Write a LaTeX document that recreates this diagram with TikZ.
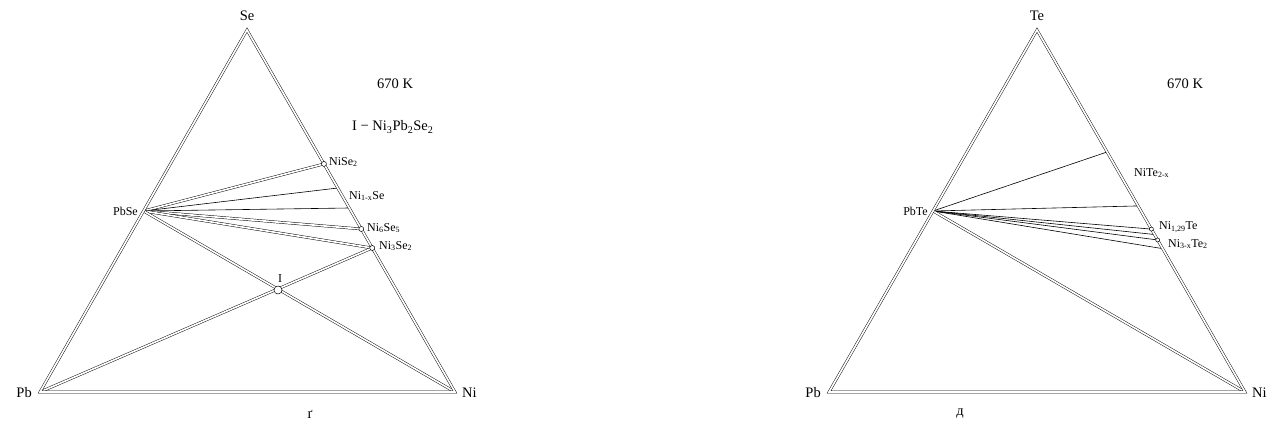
\documentclass[tikz,border=0pt]{standalone}
\usepackage{fontspec}
\setmainfont{Liberation Serif}
\usetikzlibrary{calc}
\tikzset{
  dbl/.style={draw=black, line width=0.45pt, double=white, double distance=1.7pt},
  sgl/.style={draw=black, line width=0.6pt},
  phasept/.style={circle, draw=black, fill=white, inner sep=0pt, minimum size=5pt, line width=0.5pt},
  bigpt/.style={circle, draw=black, fill=white, inner sep=0pt, minimum size=8pt, line width=0.5pt},
  lab/.style={font=\fontsize{12}{12}\selectfont, inner sep=1pt},
  biglab/.style={font=\fontsize{14.5}{14.5}\selectfont, inner sep=1pt}
}
\begin{document}
\begin{tikzpicture}[x=1pt,y=-1pt]
\useasboundingbox (0,0) rectangle (1276,427);
% ---------------- left diagram ----------------
\coordinate (PbL) at (40,392);
\coordinate (NiL) at (455,392);
\coordinate (SeL) at (247,30);
\coordinate (PbSe) at ($(PbL)!0.5!(SeL)$);
\coordinate (NiSe2) at ($(SeL)!0.370!(NiL)$);
\coordinate (NiSeA) at ($(SeL)!0.4365!(NiL)$);
\coordinate (NiSeB) at ($(SeL)!0.4917!(NiL)$);
\coordinate (Ni6Se5) at ($(SeL)!0.5497!(NiL)$);
\coordinate (Ni3Se2) at ($(SeL)!0.6022!(NiL)$);
% tie lines
\draw[dbl] (PbSe) -- (NiSe2);
\draw[sgl] (PbSe) -- (NiSeA);
\draw[sgl] (PbSe) -- (NiSeB);
\draw[dbl] (PbSe) -- (Ni6Se5);
\draw[dbl] (PbSe) -- (Ni3Se2);
\draw[dbl] (PbSe) -- (NiL);
\draw[dbl] (PbL) -- (Ni3Se2);
\draw[dbl, line join=miter] (PbL) -- (SeL) -- (NiL) -- cycle;
\node[phasept] (cNiSe2) at (NiSe2) {};
\node[phasept] (cNi6Se5) at (Ni6Se5) {};
\node[phasept] (cNi3Se2) at (Ni3Se2) {};
\node[bigpt] (pI) at (278,290) {};
% labels
\node[biglab] (lSe) at (247,16) {Se};
\node[biglab, anchor=east] (lPbL) at (33,393) {Pb};
\node[biglab, anchor=west] (lNiL) at (461,393) {Ni};
\node[lab, anchor=east] (lPbSe) at (139,211) {PbSe};
\node[lab, anchor=west] (lNiSe2) at (328,162) {NiSe\textsubscript{2}};
\node[lab, anchor=west] (lNiSe) at (348,196) {Ni\textsubscript{1-x}Se};
\node[lab, anchor=west] (lNi6Se5) at (366,228) {Ni\textsubscript{6}Se\textsubscript{5}};
\node[lab, anchor=west] (lNi3Se2) at (378,246) {Ni\textsubscript{3}Se\textsubscript{2}};
\node[lab] (lI) at (280,279) {I};
\node[biglab, anchor=west] (tL) at (376,84) {670 K};
\node[biglab, anchor=west] (cmp) at (351,127) {I − Ni\textsubscript{3}Pb\textsubscript{2}Se\textsubscript{2}};
\node[biglab] (capL) at (310,414) {ґ};
% ---------------- right diagram ----------------
\coordinate (PbR) at (829,392);
\coordinate (NiR) at (1245,392);
\coordinate (TeR) at (1037,30);
\coordinate (PbTe) at ($(PbR)!0.5!(TeR)$);
\coordinate (TeA) at ($(TeR)!0.337!(NiR)$);
\coordinate (TeB) at ($(TeR)!0.486!(NiR)$);
\coordinate (Ni129Te) at ($(TeR)!0.550!(NiR)$);
\coordinate (TeC) at ($(TeR)!0.565!(NiR)$);
\coordinate (TeD) at ($(TeR)!0.580!(NiR)$);
\coordinate (Ni3Te2) at ($(TeR)!0.604!(NiR)$);
\draw[sgl] (PbTe) -- (TeA);
\draw[sgl] (PbTe) -- (TeB);
\draw[sgl] (PbTe) -- (Ni129Te);
\draw[sgl] (PbTe) -- (TeC);
\draw[sgl] (PbTe) -- (TeD);
\draw[sgl] (PbTe) -- (Ni3Te2);
\draw[dbl] (PbTe) -- (NiR);
\draw[dbl, line join=miter] (PbR) -- (TeR) -- (NiR) -- cycle;
\node[phasept, minimum size=4pt] (cNi129Te) at (Ni129Te) {};
\node[phasept, minimum size=4pt] (cNi3Te2) at (TeD) {};
\node[biglab] (lTe) at (1037,16) {Te};
\node[biglab, anchor=east] (lPbR) at (822,393) {Pb};
\node[biglab, anchor=west] (lNiR) at (1251,393) {Ni};
\node[lab, anchor=east] (lPbTe) at (929,211) {PbTe};
\node[lab, anchor=west] (lNiTe2) at (1133,173) {NiTe\textsubscript{2-x}};
\node[lab, anchor=west] (lNi129Te) at (1158,227) {Ni\textsubscript{1,29}Te};
\node[lab, anchor=west] (lNi3Te2) at (1167,244) {Ni\textsubscript{3-x}Te\textsubscript{2}};
\node[biglab, anchor=west] (tR) at (1166,84) {670 K};
\node[biglab] (capR) at (960,414) {д};
\end{tikzpicture}
\end{document}
